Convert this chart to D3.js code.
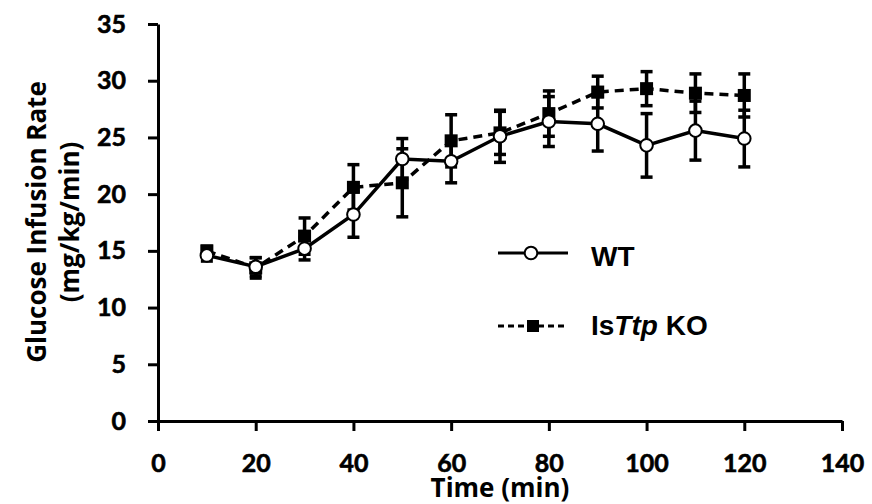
<!DOCTYPE html>
<html>
<head>
<meta charset="utf-8">
<script src="https://cdn.jsdelivr.net/npm/d3@7"></script>
<style>
html,body{margin:0;padding:0;background:#fff;}
svg{display:block;}
</style>
</head>
<body>
<svg id="chart" width="872" height="504"></svg>
<script>
const times = [10, 20, 30, 40, 50, 60, 70, 80, 90, 100, 110, 120];
const wtValues = [14.6, 13.6, 15.2, 18.2, 23.1, 22.9, 25.1, 26.4, 26.2, 24.3, 25.6, 24.9];
const wtErrors = [0.5, 0.8, 1.0, 2.0, 1.8, 1.9, 2.3, 2.2, 2.4, 2.8, 2.6, 2.5];
const koValues = [15.0, 13.5, 16.3, 20.6, 21.0, 24.7, 25.4, 27.1, 29.0, 29.3, 28.9, 28.7];
const koErrors = [0.4, 0.9, 1.6, 2.0, 3.0, 2.3, 1.9, 2.0, 1.4, 1.5, 1.7, 1.9];
const xTicks = [0, 20, 40, 60, 80, 100, 120, 140];
const yTicks = [0, 5, 10, 15, 20, 25, 30, 35];

const svg = d3.select("#chart");
const x = d3.scaleLinear().domain([0, 140]).range([158, 842]);
const y = d3.scaleLinear().domain([0, 35]).range([421, 24]);
const tickFont = "Lato, 'Open Sans', sans-serif";
const titleFont = "'Open Sans', Lato, sans-serif";

// Y axis
const yAxis = svg.append("g").attr("transform", `translate(${x(0)},0)`)
  .call(d3.axisLeft(y).tickValues(yTicks).tickSize(10).tickPadding(22).tickSizeOuter(0));
yAxis.select(".domain").attr("stroke", "#000").attr("stroke-width", 3);
yAxis.selectAll(".tick line").attr("stroke", "#000").attr("stroke-width", 3);
yAxis.selectAll(".tick text").attr("font-family", tickFont).attr("font-weight", 700)
  .attr("font-size", 25).attr("fill", "#000").attr("stroke", "#000").attr("stroke-width", 0.6);

// X axis
const xAxis = svg.append("g").attr("transform", `translate(0,${y(0)})`)
  .call(d3.axisBottom(x).tickValues(xTicks).tickSize(10).tickSizeOuter(0));
xAxis.select(".domain").attr("stroke", "#000").attr("stroke-width", 3);
xAxis.selectAll(".tick line").attr("stroke", "#000").attr("stroke-width", 3);
xAxis.selectAll(".tick text").attr("font-family", tickFont).attr("font-weight", 700)
  .attr("font-size", 25).attr("fill", "#000").attr("stroke", "#000").attr("stroke-width", 0.6)
  .attr("y", 51).attr("dy", 0);

// Axis titles
svg.append("text").attr("x", x(70)).attr("y", 497).attr("text-anchor", "middle")
  .attr("font-family", titleFont).attr("font-weight", 700).attr("font-size", 26)
  .text("Time (min)");
const yl = svg.append("g").attr("transform", "translate(0,222) rotate(-90)");
yl.append("text").attr("x", 0).attr("y", 46).attr("text-anchor", "middle")
  .attr("font-family", titleFont).attr("font-weight", 700).attr("font-size", 26)
  .text("Glucose Infusion Rate");
yl.append("text").attr("x", 0).attr("y", 79).attr("text-anchor", "middle")
  .attr("font-family", titleFont).attr("font-weight", 700).attr("font-size", 26)
  .text("(mg/kg/min)");

function series(values, errors) {
  return times.map((t, i) => ({t, v: values[i], e: errors[i]}));
}
const wt = series(wtValues, wtErrors);
const ko = series(koValues, koErrors);
const line = d3.line().x(d => x(d.t)).y(d => y(d.v));

function errorBars(data) {
  const g = svg.append("g").attr("stroke", "#000").attr("stroke-width", 3.5);
  data.forEach(d => {
    g.append("line").attr("x1", x(d.t)).attr("x2", x(d.t)).attr("y1", y(d.v - d.e)).attr("y2", y(d.v + d.e));
    [d.v - d.e, d.v + d.e].forEach(v => {
      g.append("line").attr("x1", x(d.t) - 6).attr("x2", x(d.t) + 6).attr("y1", y(v)).attr("y2", y(v));
    });
  });
}

// KO series
errorBars(ko);
svg.append("path").datum(ko).attr("d", line).attr("fill", "none").attr("stroke", "#000")
  .attr("stroke-width", 3.5).attr("stroke-dasharray", "9,6");
// WT series
errorBars(wt);
svg.append("path").datum(wt).attr("d", line).attr("fill", "none").attr("stroke", "#000")
  .attr("stroke-width", 3.5);

svg.append("g").selectAll("rect").data(ko).join("rect")
  .attr("x", d => x(d.t) - 6.5).attr("y", d => y(d.v) - 6.5)
  .attr("width", 13).attr("height", 13).attr("fill", "#000");
svg.append("g").selectAll("circle").data(wt).join("circle")
  .attr("cx", d => x(d.t)).attr("cy", d => y(d.v)).attr("r", 6.3)
  .attr("fill", "#fff").attr("stroke", "#000").attr("stroke-width", 2);

// Legend
const lg = svg.append("g");
lg.append("line").attr("x1", 498).attr("x2", 568).attr("y1", 253).attr("y2", 253)
  .attr("stroke", "#000").attr("stroke-width", 3);
lg.append("circle").attr("cx", 531).attr("cy", 253).attr("r", 6.3)
  .attr("fill", "#fff").attr("stroke", "#000").attr("stroke-width", 2);
lg.append("text").attr("x", 591).attr("y", 266).attr("font-family", "'Liberation Sans', Arial, sans-serif")
  .attr("font-weight", 700).attr("font-size", 28).text("WT");

lg.append("line").attr("x1", 498).attr("x2", 568).attr("y1", 326).attr("y2", 326)
  .attr("stroke", "#000").attr("stroke-width", 3).attr("stroke-dasharray", "6,4");
lg.append("rect").attr("x", 527).attr("y", 320).attr("width", 12).attr("height", 12).attr("fill", "#000");
const kt = lg.append("text").attr("x", 591).attr("y", 335).attr("font-family", "'Liberation Sans', Arial, sans-serif")
  .attr("font-weight", 700).attr("font-size", 28);
kt.append("tspan").text("Is");
kt.append("tspan").attr("font-style", "italic").text("Ttp");
kt.append("tspan").text(" KO");
</script>
</body>
</html>
